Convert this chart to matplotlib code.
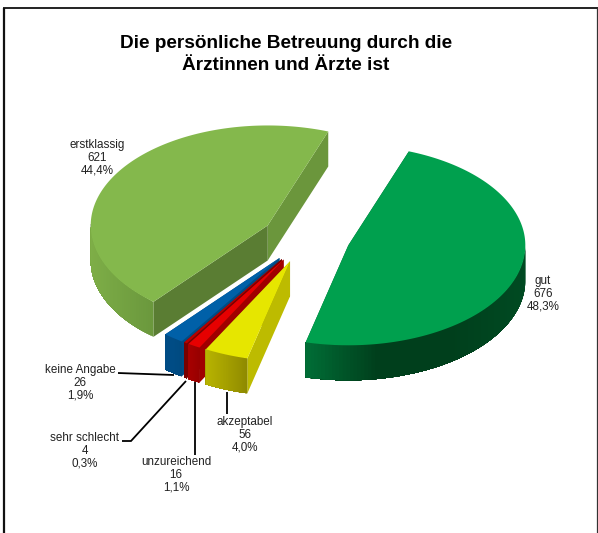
import matplotlib
matplotlib.use('Agg')
import matplotlib.pyplot as plt
from matplotlib.colors import LinearSegmentedColormap
import numpy as np

plt.rcParams['font.family'] = ['Liberation Sans', 'DejaVu Sans']

# clockwise order, starting at the upper edge of "gut"
names = ['gut', 'akzeptabel', 'unzureichend', 'sehr schlecht', 'keine Angabe', 'erstklassig']
values = [676, 56, 16, 4, 26, 621]
percents = ['48,3%', '4,0%', '1,1%', '0,3%', '1,9%', '44,4%']

title = 'Die persönliche Betreuung durch die\nÄrztinnen und Ärzte ist'

top_colors = ['#00a04e', '#e6e600', '#e60000', '#b80000', '#0060a8', '#84b84c']
rim_colors = [['#006f37', '#003f1c', '#003f1c', '#004a22'],
              ['#b8b400', '#a5a000', '#8f8a00'],
              ['#a80000', '#a00000', '#980000'],
              ['#7a0000', '#7a0000', '#7a0000'],
              ['#004c85', '#004c85', '#004a80'],
              ['#7eae47', '#74a342', '#6b983d']]
cut_start_colors = ['#00602e', '#bdbb00', '#a00000', '#7a0000', '#004c85', '#5a7d33']
cut_end_colors = ['#00602e', '#8f8a00', '#a00000', '#7a0000', '#004c85', '#6b963c']

# label centre x, y of first line
label_x = [543, 245, 176, 85, 80, 97]
label_y = [281, 422, 462, 438, 370, 145]
line_h = 12.6

leaders = {'akzeptabel': [(227, 392), (227, 414)],
           'unzureichend': [(195, 382), (195, 455)],
           'sehr schlecht': [(122, 441), (131, 441), (186, 381)],
           'keine Angabe': [(118, 373), (174, 375)]}

# pie geometry in pixels
cx, cy = 306, 238
a, b = 177, 100
depth = 35
explode = 0.25
start_angle = 70

fig = plt.figure(figsize=(5.98, 5.33), dpi=100)
ax = fig.add_axes([0, 0, 1, 1])
ax.set_xlim(0, 598)
ax.set_ylim(533, 0)
ax.axis('off')

# frame
ax.plot([4, 4], [533, 8], color='#111111', lw=1.6, solid_capstyle='butt')
ax.plot([3, 598], [8, 8], color='#111111', lw=1.3, solid_capstyle='butt')
ax.plot([597, 597], [8, 533], color='#333333', lw=0.9, solid_capstyle='butt')

ax.text(286, 54.5, title, ha='center', va='center', fontsize=13.7, fontweight='bold',
        color='black', linespacing=1.35)

sweeps = np.array(values) / sum(values) * 360
starts = start_angle - np.concatenate(([0], np.cumsum(sweeps)[:-1]))

def ring(ox, oy, angles):
    r = np.radians(angles)
    return ox + a * np.cos(r), oy - b * np.sin(r)

# back to front
for i in [5, 4, 3, 2, 1, 0]:
    t0 = starts[i]
    t1 = t0 - sweeps[i]
    mid = np.radians((t0 + t1) / 2)
    ox = cx + explode * a * np.cos(mid)
    oy = cy - explode * b * np.sin(mid)

    angles = np.linspace(t0, t1, 300)
    xs, ys = ring(ox, oy, angles)

    # cut faces
    ax.fill([ox, xs[-1], xs[-1], ox], [oy, ys[-1], ys[-1] + depth, oy + depth],
            color=cut_end_colors[i], lw=0)
    ax.fill([ox, xs[0], xs[0], ox], [oy, ys[0], ys[0] + depth, oy + depth],
            color=cut_start_colors[i], lw=0)

    # outer rim, only the part that faces the viewer. every piece runs to the
    # end of the rim, so the next one paints over it and no seams show
    front = np.sin(np.radians(angles)) < 0.01
    fx, fy = xs[front], ys[front]
    if len(fx) > 1:
        cmap = LinearSegmentedColormap.from_list('rim', rim_colors[i])
        span = max(fx.max() - fx.min(), 1)
        for j in range(0, len(fx) - 1, 2):
            c = cmap((fx[j] - fx.min()) / span)
            ax.fill(np.r_[fx[j:], fx[j:][::-1]], np.r_[fy[j:], fy[j:][::-1] + depth],
                    color=c, lw=0)

    # top surface
    ax.fill(np.r_[ox, xs], np.r_[oy, ys], color=top_colors[i], lw=0)

for name, pts in leaders.items():
    ax.plot([p[0] for p in pts], [p[1] for p in pts], color='black', lw=1.3,
            solid_capstyle='butt', solid_joinstyle='miter')

for i, name in enumerate(names):
    for k, line in enumerate([name, str(values[i]), percents[i]]):
        ax.text(label_x[i], label_y[i] + k * line_h, line, ha='center', va='center',
                fontsize=8.4, color='#222222')

fig.savefig('out.png', dpi=100)
